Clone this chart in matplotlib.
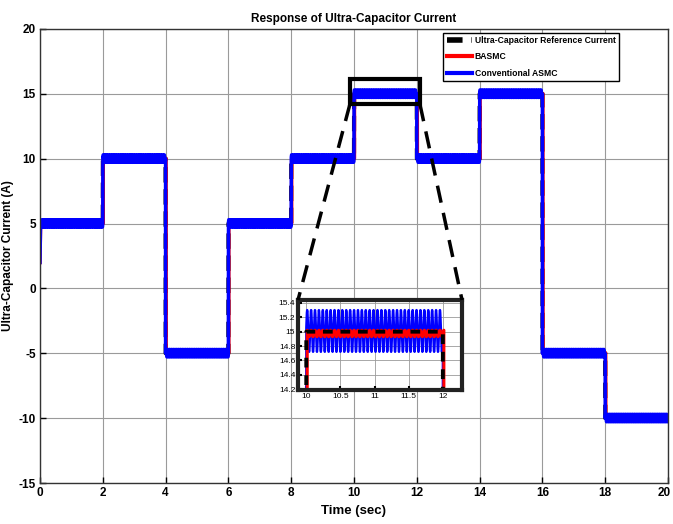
import numpy as np
import matplotlib
matplotlib.use("Agg")
import matplotlib.pyplot as plt
from matplotlib.patches import Rectangle
from matplotlib.lines import Line2D
from matplotlib.transforms import ScaledTranslation

plt.rcParams['font.family'] = ['Liberation Sans', 'DejaVu Sans']
plt.rcParams['font.weight'] = 'bold'
plt.rcParams['axes.unicode_minus'] = False

# Reference current profile: level held on each 2 s interval
switch_times = [0, 2, 4, 6, 8, 10, 12, 14, 16, 18, 20]
ref_levels = [5, 10, -5, 5, 10, 15, 10, 15, -5, -10]
initial_current = 2.0

# Steady-state ripple of each controller (A, Hz) and mean offset
asmc_ripple_amp = 0.29
asmc_ripple_freq = 17.5
asmc_offset = 0.01
basmc_ripple_amp = 0.045
basmc_ripple_freq = 17.5
basmc_offset = -0.025

t = np.linspace(0, 20, 40001)
idx = np.clip(np.searchsorted(switch_times, t, side='right') - 1, 0, len(ref_levels) - 1)
ref = np.array(ref_levels, dtype=float)[idx]

def tracked(amp, freq, offset, lag):
    idx_l = np.clip(np.searchsorted(switch_times, t - lag, side='right') - 1, 0, len(ref_levels) - 1)
    y = np.array(ref_levels, dtype=float)[idx_l]
    y = y + offset + amp * np.sin(2 * np.pi * freq * t)
    start = t < 0.02
    y[start] = initial_current + (y[start] - initial_current) * t[start] / 0.02
    return y

basmc = tracked(basmc_ripple_amp, basmc_ripple_freq, basmc_offset, 0.015)
asmc = tracked(asmc_ripple_amp, asmc_ripple_freq, asmc_offset, 0.0)

fig = plt.figure(figsize=(6.73, 5.24), dpi=100)
ax = fig.add_axes([0.0594, 0.0782, 0.9332, 0.8665])

ax.plot(t, ref, color='black', lw=3, ls='--')
ax.plot(t, basmc, color='red', lw=2.5)
ax.plot(t, asmc, color='blue', lw=2.5)

ax.set_xlim(0, 20)
ax.set_ylim(-15, 20)
ax.set_xticks(np.arange(0, 21, 2))
ax.set_yticks(np.arange(-15, 21, 5))
ax.grid(True, color='#9a9a9a', lw=0.8)
ax.tick_params(direction='in', labelsize=8.5, length=4, width=1, pad=3)
for s in ax.spines.values():
    s.set_linewidth(1.0)
    s.set_color('#333333')
ax.set_title('Response of Ultra-Capacitor Current', fontsize=8.5, fontweight='bold', pad=5)
ax.set_xlabel('Time (sec)', fontsize=9.5, fontweight='bold', labelpad=4)
ax.set_ylabel('Ultra-Capacitor Current (A)', fontsize=8.5, fontweight='bold', labelpad=3)

# keep the last x tick label inside the canvas
fig.canvas.draw()
last = ax.get_xticklabels()[-1]
last.set_transform(last.get_transform() + ScaledTranslation(-3 / 72, 0, fig.dpi_scale_trans))

handles = [
    Line2D([], [], color='black', lw=4, ls=(0, (2.8, 1.6))),
    Line2D([], [], color='red', lw=3),
    Line2D([], [], color='blue', lw=3),
]
leg = ax.legend(handles, ['Ultra-Capacitor Reference Current', 'BASMC', 'Conventional ASMC'],
                loc='upper left', bbox_to_anchor=(0.642, 0.992), fontsize=6.2,
                frameon=True, fancybox=False, framealpha=1, edgecolor='black',
                borderpad=0.4, labelspacing=0.85, handlelength=3.0, handletextpad=0.25,
                borderaxespad=0)
leg.get_frame().set_linewidth(1.0)

# Zoom window and inset
zx0, zx1, zy0, zy1 = 9.87, 12.1, 14.2, 16.15
ax.add_patch(Rectangle((zx0, zy0), zx1 - zx0, zy1 - zy0, fill=False, ec='black', lw=3, zorder=5))

ins_box = [0.4428, 0.2557, 0.2437, 0.1718]
ins = fig.add_axes(ins_box)
ins.plot(t, asmc, color='blue', lw=1.7)
ins.plot(t, basmc, color='red', lw=2.2)
ins.plot(t, ref, color='black', lw=2.8, ls=(0, (2.5, 2)))
ins.set_xlim(9.88, 12.28)
ins.set_ylim(14.19, 15.44)
ins.set_xticks([10, 10.5, 11, 11.5, 12])
ins.set_xticklabels(['10', '10.5', '11', '11.5', '12'])
ins.set_yticks([14.2, 14.4, 14.6, 14.8, 15, 15.2, 15.4])
ins.set_yticklabels(['14.2', '14.4', '14.6', '14.8', '15', '15.2', '15.4'])
ins.grid(True, color='#9a9a9a', lw=0.6)
ins.tick_params(direction='in', labelsize=6, length=3, width=1.5, pad=2)
for lab in ins.get_xticklabels() + ins.get_yticklabels():
    lab.set_fontweight('normal')
for s in ins.spines.values():
    s.set_linewidth(3)
    s.set_color('#222222')

# Dashed connectors from the zoom window to the inset corners
inv = fig.transFigure.inverted()
for xd, xf in ((zx0, ins_box[0]), (zx1, ins_box[0] + ins_box[2])):
    p = inv.transform(ax.transData.transform((xd, zy0)))
    fig.add_artist(Line2D([p[0], xf], [p[1], ins_box[1] + ins_box[3]], color='black', lw=2.5,
                          ls=(0, (5, 3)), transform=fig.transFigure))

fig.savefig('out.png', dpi=100)
